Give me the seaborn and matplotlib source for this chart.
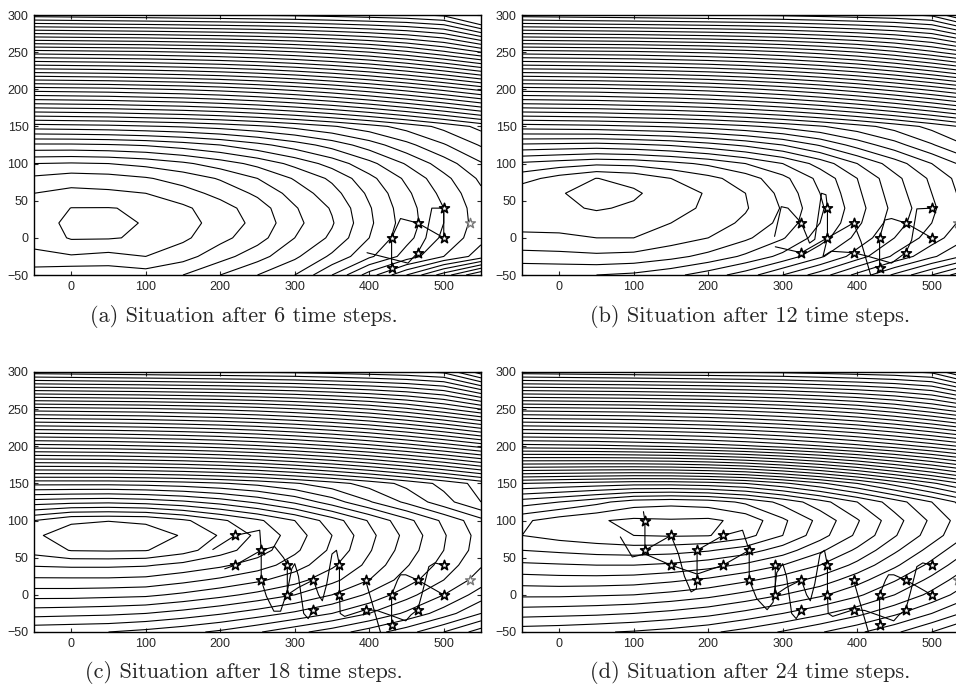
import numpy as np
import pandas as pd
import matplotlib
matplotlib.use("Agg")
import matplotlib.pyplot as plt
import seaborn as sns

sns.set_style("ticks")
plt.rcParams['font.family'] = ['Liberation Sans', 'DejaVu Sans']

# ---------------- grid of the potential field ----------------
GRID_X = [-50, 0, 50, 100, 150, 200, 250, 300, 350, 400, 450, 500, 550]
GRID_Y = [-50, -25, 0, 20, 40, 60, 80, 100, 125, 150, 200, 250, 300]

# shared upper rows (y = 200, 250, 300)
TOP_200 = [19.5, 19.6, 19.7, 19.9, 20.1, 20.4, 20.8, 21.3, 21.9, 22.6, 23.4, 24.3, 25.3]
TOP_250 = [29.5, 29.6, 29.7, 29.8, 30.0, 30.2, 30.5, 30.9, 31.4, 32.0, 32.8, 33.8, 35.0]
TOP_300 = [40.5, 40.6, 40.7, 40.8, 40.9, 41.0, 41.1, 41.2, 41.4, 41.6, 41.8, 42.2, 44.5]

# panel (a) rows, y = -50 ... 150
A_LOW = [
    [3.6, 3.8, 3.7, 3.5, 4.0, 5.0, 6.0, 7.0, 9.0, 11.5, 14.0, 16.5, 19.0],
    [2.2, 2.1, 2.3, 2.0, 2.6, 3.6, 4.6, 5.8, 7.2, 8.8, 10.4, 12.0, 13.5],
    [1.7, 0.9, 0.92, 1.15, 1.8, 2.7, 3.6, 5.0, 6.2, 8.0, 9.7, 11.2, 12.7],
    [1.5, 0.75, 0.8, 1.05, 1.6, 2.4, 3.3, 4.7, 5.9, 7.8, 9.5, 11.0, 12.5],
    [1.7, 0.98, 0.97, 1.1, 1.8, 2.6, 3.5, 4.9, 6.1, 7.9, 9.6, 11.0, 12.6],
    [2.0, 1.7, 1.8, 2.0, 2.6, 3.3, 4.2, 5.4, 6.6, 8.2, 9.8, 11.3, 12.8],
    [2.8, 2.5, 2.6, 2.9, 3.4, 4.1, 5.0, 6.1, 7.2, 8.7, 10.2, 11.7, 13.2],
    [4.0, 3.9, 4.0, 4.3, 4.8, 5.5, 6.3, 7.3, 8.4, 9.7, 11.1, 12.5, 13.9],
    [6.8, 6.8, 6.9, 7.1, 7.5, 8.0, 8.7, 9.5, 10.4, 11.5, 12.7, 13.9, 15.1],
    [10.5, 10.6, 10.7, 10.9, 11.1, 11.4, 11.8, 12.3, 12.9, 13.6, 14.4, 15.3, 16.3],
]
# panel (b)
B_LOW = [
    [5.0, 5.0, 5.0, 5.2, 5.7, 6.5, 7.5, 9.0, 10.5, 12.3, 14.2, 16.0, 18.0],
    [3.4, 3.3, 3.2, 3.3, 3.7, 4.3, 5.2, 6.3, 7.8, 9.5, 11.2, 12.8, 14.3],
    [2.2, 2.2, 2.0, 2.0, 2.5, 3.0, 3.8, 4.9, 6.5, 8.3, 10.0, 11.5, 13.0],
    [1.7, 1.6, 1.5, 1.6, 2.0, 2.5, 3.2, 4.3, 6.0, 7.8, 9.5, 11.0, 12.5],
    [1.4, 1.2, 0.9, 1.15, 1.6, 2.2, 2.9, 4.1, 5.8, 7.6, 9.3, 10.8, 12.3],
    [1.3, 1.05, 0.75, 0.85, 1.5, 2.1, 3.0, 4.3, 6.0, 7.8, 9.5, 11.0, 12.5],
    [2.4, 1.6, 0.98, 1.3, 2.0, 2.7, 3.5, 4.7, 6.3, 8.0, 9.7, 11.2, 12.7],
    [3.8, 3.5, 3.2, 3.3, 3.7, 4.2, 5.0, 6.0, 7.4, 9.0, 10.5, 12.0, 13.5],
    [6.8, 6.7, 6.6, 6.8, 7.1, 7.6, 8.2, 9.0, 10.1, 11.4, 12.6, 13.9, 15.1],
    [10.5, 10.6, 10.7, 10.9, 11.1, 11.4, 11.8, 12.3, 12.9, 13.6, 14.4, 15.3, 16.3],
]
# panel (c)
C_LOW = [
    [9.8, 9.9, 10.0, 10.3, 10.7, 11.2, 11.9, 12.7, 13.5, 14.5, 15.6, 17.0, 18.5],
    [7.6, 7.7, 7.8, 8.0, 8.4, 8.9, 9.5, 10.2, 11.0, 12.0, 13.2, 14.5, 16.0],
    [5.6, 5.6, 5.7, 5.8, 6.2, 6.7, 7.3, 8.0, 9.0, 10.2, 11.6, 13.0, 14.5],
    [4.2, 4.2, 4.2, 4.3, 4.7, 5.2, 5.8, 6.6, 7.7, 9.0, 10.5, 12.0, 13.5],
    [2.9, 2.8, 2.8, 2.9, 3.3, 3.8, 4.5, 5.5, 6.8, 8.3, 9.9, 11.4, 12.9],
    [1.6, 0.95, 0.9, 0.95, 1.6, 2.6, 3.5, 4.8, 6.2, 7.9, 9.5, 11.0, 12.5],
    [1.1, 0.7, 0.6, 0.7, 1.05, 2.1, 3.2, 4.5, 6.0, 7.7, 9.3, 10.9, 12.4],
    [2.0, 1.1, 1.02, 1.1, 1.8, 2.8, 3.8, 5.0, 6.5, 8.1, 9.7, 11.2, 12.7],
    [5.5, 5.3, 5.2, 5.4, 5.8, 6.4, 7.2, 8.2, 9.5, 10.9, 12.2, 13.6, 15.0],
    [9.3, 9.3, 9.3, 9.4, 9.6, 9.9, 10.3, 10.9, 11.6, 12.4, 13.3, 14.3, 15.4],
]
# panel (d)
D_LOW = [
    [10.6, 10.7, 10.9, 11.1, 11.4, 11.8, 12.4, 13.1, 13.9, 14.8, 15.8, 17.0, 18.3],
    [8.6, 8.7, 8.8, 9.0, 9.3, 9.7, 10.3, 11.0, 11.8, 12.7, 13.8, 15.0, 16.3],
    [6.8, 6.8, 6.9, 7.0, 7.3, 7.7, 8.3, 9.0, 9.8, 10.8, 12.0, 13.3, 14.7],
    [5.5, 5.4, 5.4, 5.5, 5.8, 6.2, 6.8, 7.5, 8.4, 9.6, 10.9, 12.3, 13.8],
    [4.2, 4.1, 4.0, 4.0, 4.2, 4.6, 5.2, 6.0, 7.0, 8.3, 9.8, 11.3, 12.9],
    [3.0, 2.8, 2.6, 2.5, 2.6, 2.9, 3.5, 4.5, 5.8, 7.2, 8.8, 10.4, 12.0],
    [2.0, 1.6, 1.3, 1.0, 0.9, 0.95, 1.6, 3.0, 4.6, 6.2, 7.9, 9.5, 11.1],
    [2.2, 1.5, 1.1, 0.8, 0.9, 0.8, 1.3, 2.8, 4.3, 5.9, 7.6, 9.2, 10.8],
    [4.5, 4.0, 3.3, 2.5, 2.3, 2.5, 3.2, 4.3, 5.6, 7.0, 8.5, 10.0, 11.6],
    [8.0, 7.8, 7.6, 7.4, 7.4, 7.6, 8.0, 8.8, 9.8, 11.0, 12.4, 13.8, 15.3],
]

# ---------------- agents (stars) ----------------
A_STAR_X = [430, 430, 465, 465, 500, 500, 535]
A_STAR_Y = [0, -40, 20, -20, 40, 0, 20]
B_STAR_X = [325, 325, 360, 360, 395, 395, 430, 430, 465, 465, 500, 500, 535]
B_STAR_Y = [20, -20, 40, 0, 20, -20, 0, -40, 20, -20, 40, 0, 20]
C_STAR_X = [220, 220, 255, 255, 290, 290, 325, 325, 360, 360, 395, 395, 430, 430, 465, 465, 500, 500, 535]
C_STAR_Y = [80, 40, 60, 20, 40, 0, 20, -20, 40, 0, 20, -20, 0, -40, 20, -20, 40, 0, 20]
D_STAR_X = [115, 115, 150, 150, 185, 185, 220, 220, 255, 255, 290, 290, 325, 325, 360, 360,
            395, 395, 430, 430, 465, 465, 500, 500, 535]
D_STAR_Y = [100, 60, 80, 40, 60, 20, 80, 40, 60, 20, 40, 0, 20, -20, 40, 0, 20, -20, 0, -40,
            20, -20, 40, 0, 20]

# ---------------- trajectories ----------------
A_TRAJ = [
    ([397, 452, 465, 476, 484, 500, 500], [-20, -34, -20, 0, 40, 40, 0]),
    ([430, 430, 442, 465, 500], [-45, 0, 26, 20, 0]),
]
B_TRAJ = [
    ([289, 298, 307, 325, 336, 343, 352, 358, 360, 360, 354, 365, 395, 415, 446, 465, 473, 480, 500],
     [2, 42, 40, 20, -7, -2, 60, 58, 40, 0, -25, -18, -20, -25, -34, -20, -3, 39, 40]),
    ([290, 325, 360, 395, 405, 418], [-12, -20, 0, 20, -5, -50]),
    ([430, 430, 437, 446, 465, 500], [-40, 0, 24, 26, 20, 0]),
]
C_TRAJ = [
    ([190, 220, 253, 255, 255, 262, 272, 281, 290, 296, 300, 305, 312, 318, 325],
     [61, 80, 87, 60, 20, -2, -22, -22, 5, 35, 42, 25, -25, -32, -20]),
    ([206, 220, 255, 273, 285, 290, 290, 305, 325, 332, 337, 343, 350, 356, 360, 360, 361, 367,
      395, 410, 430, 449, 456, 465, 471, 480, 488, 500],
     [35, 40, 60, 65, 50, 40, 0, 10, 20, 0, -8, 15, 55, 60, 40, 0, -25, -29,
      -20, -21, -28, -35, -27, -20, 2, 38, 43, 40]),
    ([430, 430, 438, 442, 449, 465, 500], [-40, 0, 20, 27, 27, 20, 0]),
    ([395, 415], [20, -50]),
]
D_TRAJ = [
    ([82, 98, 115, 150, 185, 220, 255], [78, 51, 55, 40, 28, 40, 60]),
    ([113, 115, 115, 150, 160, 168, 177, 184, 185, 185, 220, 246, 255, 255, 265, 279, 287, 292,
      300, 305, 312, 318, 325],
     [112, 100, 60, 80, 55, 25, 4, 8, 20, 60, 80, 87, 60, 20, -5, -20, -10, 30,
      42, 25, -25, -32, -20]),
    ([290, 290, 305, 325, 332, 337, 343, 350, 356, 360, 360, 361, 367, 395, 410, 430, 449, 456,
      465, 471, 480, 488, 500],
     [40, 0, 10, 20, 0, -8, 15, 55, 60, 40, 0, -25, -29, -20, -21, -28, -35, -27,
      -20, 2, 38, 43, 40]),
    ([430, 430, 438, 442, 449, 465, 500], [-40, 0, 20, 27, 27, 20, 0]),
    ([395, 415], [20, -50]),
]

CAPTIONS = ["(a) Situation after 6 time steps.", "(b) Situation after 12 time steps.",
            "(c) Situation after 18 time steps.", "(d) Situation after 24 time steps."]
MAX_LEVEL = [42, 48, 48, 48]

X_TICKS = [0, 100, 200, 300, 400, 500]
Y_TICKS = [-50, 0, 50, 100, 150, 200, 250, 300]

W, H = 956, 691
fig = plt.figure(figsize=(W / 100, H / 100), dpi=100)

ax_px = [(34, 15), (522, 15), (34, 372), (522, 372)]  # left, top in pixels
panel_w = 600 * 0.745
panel_h = 260

lows = [A_LOW, B_LOW, C_LOW, D_LOW]
stars = [(A_STAR_X, A_STAR_Y), (B_STAR_X, B_STAR_Y), (C_STAR_X, C_STAR_Y), (D_STAR_X, D_STAR_Y)]
trajs = [A_TRAJ, B_TRAJ, C_TRAJ, D_TRAJ]
cap_pos = [(244, 316), (750, 316), (244, 673), (750, 673)]

for i in range(4):
    l, t = ax_px[i]
    ax = fig.add_axes([l / W, 1 - (t + panel_h) / H, panel_w / W, panel_h / H])
    Z = np.array(lows[i] + [TOP_200, TOP_250, TOP_300])
    X, Y = np.meshgrid(GRID_X, GRID_Y)
    ax.contour(X, Y, Z, levels=np.arange(1, MAX_LEVEL[i] + 1), colors='black',
               linewidths=0.8)

    # trajectories
    rows = []
    for k, (tx, ty) in enumerate(trajs[i]):
        for j, (xx, yy) in enumerate(zip(tx, ty)):
            rows.append({'traj': k, 'order': j, 'x': xx, 'y': yy})
    df = pd.DataFrame(rows)
    sns.lineplot(data=df, x='x', y='y', units='traj', estimator=None, sort=False,
                 color='black', linewidth=0.8, ax=ax, legend=False)

    # stars
    sx, sy = stars[i]
    sdf = pd.DataFrame({'x': sx[:-1], 'y': sy[:-1]})
    sns.scatterplot(data=sdf, x='x', y='y', marker='*', s=55, color='white',
                    edgecolor='black', linewidth=1.2, ax=ax, zorder=5)
    ax.scatter([sx[-1]], [sy[-1]], marker='*', s=55, color='white',
               edgecolors='#777777', linewidths=1.0, zorder=5)

    ax.set_xlim(-50, 550)
    ax.set_ylim(-50, 300)
    ax.set_xticks(X_TICKS)
    ax.set_yticks(Y_TICKS)
    ax.set_xlabel('')
    ax.set_ylabel('')
    ax.tick_params(direction='in', length=3, width=0.8, labelsize=9,
                   top=True, right=True, pad=4)
    for s in ax.spines.values():
        s.set_linewidth(1.0)
        s.set_color('black')

    cx, cy = cap_pos[i]
    fig.text(cx / W, 1 - cy / H, CAPTIONS[i], ha='center', va='center',
             fontsize=16, family='cmr10')

fig.savefig('out.png', dpi=100)
